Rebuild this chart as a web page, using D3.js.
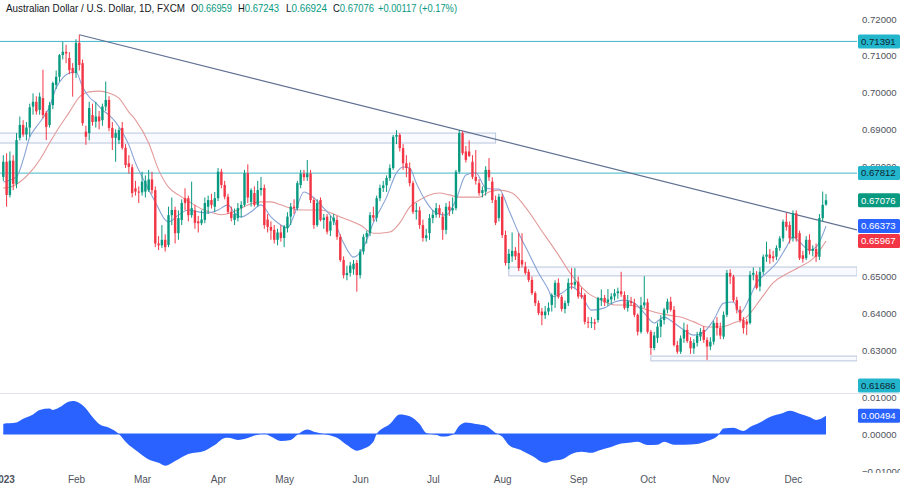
<!DOCTYPE html>
<html><head><meta charset="utf-8">
<script src="https://cdn.jsdelivr.net/npm/d3@7"></script>
<style>body{margin:0;background:#fff}svg{display:block;font-family:"Liberation Sans",Arial,sans-serif}</style>
</head><body>
<svg id="c" width="900" height="488"></svg>
<script>
// ---------- data ----------
const titleText = "Australian Dollar / U.S. Dollar, 1D, FXCM";
const ohlcLegend = [["O","0.66959"],["H","0.67243"],["L","0.66924"],["C","0.67076"]];
const changeText = "+0.00117 (+0.17%)";
const monthLabels = ["2023","Feb","Mar","Apr","May","Jun","Jul","Aug","Sep","Oct","Nov","Dec"];
// visible price tick labels (0.67, 0.66 and 0.62 sit under the value tags)
const priceTicks = [0.72,0.71,0.70,0.69,0.68,0.65,0.64,0.63];
const oscTicks = [0.01,0,-0.01];
const oscTickLabels = ["0.01000","0.00000","\u22120.01000"];
const firstDay = "2023-01-02", lastDay = "2023-12-15";
// daily candles [open, high, low, close]
const candles = [
[.6771,.6830,.6760,.6812],[.6812,.6835,.6690,.6722],[.6722,.6840,.6715,.6815],[.6815,.6830,.6735,.6752],[.6752,.6890,.6740,.6871],
[.6877,.6935,.6870,.6912],[.6912,.6925,.6880,.6886],[.6886,.6920,.6870,.6905],[.6905,.6970,.6880,.6960],[.6962,.6998,.6940,.6975],
[.6975,.6990,.6940,.6949],[.6953,.7000,.6940,.6989],[.6985,.7062,.6930,.6939],[.6945,.6950,.6871,.6907],[.6912,.6975,.6905,.6966],
[.6966,.7030,.6955,.7026],[.7021,.7060,.7010,.7043],[.7043,.7105,.7030,.7102],[.7102,.7138,.7090,.7111],[.7111,.7130,.7080,.7106],
[.7094,.7110,.7050,.7061],[.7067,.7080,.6989,.7053],[.7053,.7145,.7040,.7135],[.7135,.7157,.7060,.7075],[.7080,.7090,.6910,.6917],
[.6894,.6910,.6858,.6880],[.6890,.6975,.6870,.6958],[.6939,.6970,.6910,.6920],[.6921,.6975,.6905,.6935],[.6935,.6950,.6900,.6922],
[.6925,.6970,.6910,.6962],[.6962,.7030,.6950,.6980],[.6980,.6990,.6895,.6904],[.6904,.6920,.6844,.6877],[.6877,.6900,.6812,.6890],
[.6871,.6905,.6860,.6898],[.6904,.6920,.6845,.6850],[.6850,.6860,.6795,.6803],[.6808,.6830,.6780,.6798],[.6797,.6805,.6715,.6727],
[.6740,.6760,.6720,.6731],[.6731,.6745,.6700,.6729],[.6729,.6785,.6720,.6758],[.6731,.6775,.6715,.6760],[.6735,.6790,.6730,.6764],
[.6764,.6785,.6725,.6735],[.6735,.6745,.6580,.6590],[.6590,.6610,.6572,.6585],[.6585,.6640,.6578,.6600],[.6600,.6615,.6568,.6580],
[.6586,.6690,.6580,.6667],[.6667,.6715,.6640,.6681],[.6681,.6690,.6590,.6618],[.6618,.6680,.6600,.6659],[.6654,.6710,.6640,.6700],
[.6713,.6740,.6680,.6700],[.6713,.6720,.6650,.6667],[.6667,.6758,.6660,.6686],[.6680,.6695,.6630,.6646],[.6650,.6665,.6620,.6645],
[.6645,.6680,.6640,.6655],[.6654,.6715,.6645,.6700],[.6690,.6720,.6670,.6708],[.6708,.6725,.6685,.6695],[.6690,.6730,.6675,.6713],
[.6713,.6795,.6705,.6785],[.6785,.6793,.6740,.6749],[.6749,.6760,.6710,.6717],[.6717,.6725,.6670,.6676],[.6676,.6690,.6650,.6659],
[.6654,.6685,.6640,.6670],[.6659,.6700,.6650,.6686],[.6686,.6705,.6660,.6695],[.6695,.6790,.6690,.6781],[.6781,.6805,.6700,.6715],
[.6703,.6740,.6690,.6735],[.6727,.6745,.6690,.6695],[.6695,.6760,.6690,.6735],[.6735,.6771,.6720,.6741],[.6741,.6750,.6630,.6640],
[.6655,.6670,.6620,.6635],[.6635,.6650,.6600,.6625],[.6627,.6640,.6590,.6600],[.6600,.6630,.6585,.6620],[.6620,.6640,.6595,.6605],
[.6605,.6640,.6580,.6636],[.6632,.6675,.6620,.6663],[.6663,.6700,.6640,.6690],[.6690,.6710,.6670,.6686],[.6686,.6760,.6680,.6754],
[.6749,.6790,.6740,.6780],[.6780,.6790,.6760,.6770],[.6770,.6817,.6760,.6780],[.6780,.6790,.6700,.6708],[.6708,.6715,.6630,.6640],
[.6640,.6710,.6635,.6700],[.6708,.6715,.6650,.6654],[.6654,.6670,.6630,.6660],[.6663,.6670,.6615,.6622],[.6625,.6665,.6610,.6650],
[.6650,.6670,.6640,.6660],[.6654,.6665,.6600,.6608],[.6608,.6615,.6540,.6545],[.6545,.6555,.6495,.6504],[.6504,.6530,.6490,.6510],
[.6510,.6540,.6500,.6530],[.6520,.6545,.6505,.6535],[.6537,.6545,.6459,.6504],[.6504,.6575,.6495,.6568],[.6568,.6615,.6560,.6608],
[.6608,.6625,.6590,.6618],[.6618,.6675,.6610,.6667],[.6667,.6690,.6650,.6660],[.6660,.6720,.6649,.6713],[.6713,.6750,.6705,.6741],
[.6741,.6760,.6730,.6748],[.6748,.6775,.6730,.6768],[.6768,.6805,.6760,.6795],[.6795,.6885,.6790,.6880],[.6880,.6898,.6860,.6885],
[.6885,.6890,.6840,.6849],[.6849,.6860,.6790,.6808],[.6808,.6830,.6770,.6795],[.6795,.6810,.6745,.6754],[.6754,.6760,.6670,.6676],
[.6676,.6700,.6655,.6680],[.6680,.6690,.6630,.6640],[.6640,.6655,.6595,.6605],[.6605,.6630,.6595,.6612],[.6618,.6670,.6600,.6659],
[.6659,.6680,.6645,.6668],[.6668,.6700,.6660,.6686],[.6686,.6695,.6660,.6670],[.6663,.6675,.6600,.6627],[.6627,.6700,.6615,.6690],
[.6690,.6705,.6665,.6680],[.6680,.6715,.6670,.6686],[.6686,.6790,.6680,.6785],[.6785,.6898,.6780,.6890],[.6890,.6895,.6830,.6835],
[.6840,.6855,.6810,.6817],[.6840,.6870,.6825,.6828],[.6812,.6830,.6765,.6771],[.6771,.6844,.6750,.6760],[.6754,.6765,.6720,.6727],
[.6727,.6745,.6715,.6735],[.6731,.6800,.6720,.6790],[.6790,.6822,.6760,.6770],[.6758,.6770,.6700,.6708],[.6708,.6720,.6640,.6646],
[.6659,.6725,.6650,.6717],[.6717,.6725,.6605,.6613],[.6613,.6625,.6530,.6537],[.6537,.6575,.6520,.6562],[.6555,.6620,.6540,.6570],
[.6570,.6580,.6545,.6555],[.6564,.6618,.6515,.6523],[.6545,.6618,.6525,.6533],[.6527,.6540,.6505,.6510],[.6513,.6520,.6485,.6491],
[.6491,.6500,.6450,.6455],[.6455,.6460,.6420,.6428],[.6428,.6435,.6395,.6401],[.6405,.6415,.6368,.6395],[.6395,.6420,.6385,.6405],
[.6405,.6430,.6395,.6415],[.6423,.6455,.6405,.6450],[.6450,.6490,.6415,.6483],[.6483,.6495,.6440,.6445],[.6445,.6450,.6405,.6412],
[.6412,.6435,.6400,.6428],[.6428,.6495,.6420,.6483],[.6483,.6523,.6465,.6478],[.6478,.6523,.6470,.6486],[.6486,.6500,.6440,.6446],
[.6450,.6470,.6440,.6445],[.6450,.6455,.6370,.6377],[.6377,.6390,.6360,.6375],[.6375,.6390,.6360,.6376],[.6376,.6385,.6355,.6372],
[.6382,.6445,.6375,.6442],[.6436,.6465,.6420,.6442],[.6442,.6450,.6420,.6430],[.6430,.6466,.6420,.6438],[.6438,.6455,.6425,.6446],
[.6446,.6466,.6435,.6455],[.6455,.6470,.6440,.6460],[.6460,.6513,.6445,.6452],[.6450,.6460,.6410,.6415],[.6415,.6450,.6405,.6433],
[.6433,.6445,.6420,.6428],[.6428,.6440,.6390,.6396],[.6396,.6400,.6340,.6350],[.6350,.6445,.6345,.6422],[.6422,.6501,.6415,.6430],
[.6430,.6440,.6345,.6350],[.6350,.6355,.6287,.6306],[.6306,.6350,.6300,.6340],[.6333,.6375,.6320,.6364],[.6364,.6395,.6335,.6382],
[.6382,.6415,.6370,.6410],[.6410,.6440,.6400,.6432],[.6432,.6445,.6405,.6410],[.6410,.6420,.6310,.6314],[.6314,.6325,.6290,.6296],
[.6296,.6340,.6290,.6332],[.6332,.6375,.6320,.6355],[.6355,.6370,.6320,.6325],[.6325,.6335,.6290,.6305],[.6305,.6330,.6290,.6320],
[.6320,.6350,.6310,.6340],[.6337,.6360,.6325,.6350],[.6355,.6365,.6320,.6328],[.6328,.6335,.6273,.6310],[.6310,.6335,.6300,.6323],
[.6323,.6380,.6315,.6374],[.6374,.6390,.6340,.6360],[.6360,.6375,.6330,.6340],[.6337,.6405,.6330,.6396],[.6396,.6518,.6390,.6510],
[.6510,.6520,.6480,.6500],[.6500,.6505,.6430,.6436],[.6436,.6445,.6400,.6410],[.6410,.6420,.6375,.6382],[.6382,.6390,.6345,.6360],
[.6378,.6385,.6341,.6370],[.6374,.6515,.6370,.6505],[.6505,.6525,.6490,.6510],[.6505,.6515,.6465,.6469],[.6473,.6525,.6460,.6513],
[.6513,.6560,.6505,.6554],[.6554,.6595,.6540,.6560],[.6560,.6575,.6535,.6550],[.6555,.6570,.6540,.6550],[.6554,.6585,.6545,.6578],
[.6578,.6610,.6570,.6604],[.6604,.6655,.6595,.6649],[.6649,.6673,.6625,.6635],[.6640,.6650,.6590,.6604],[.6604,.6680,.6595,.6672],
[.6672,.6680,.6595,.6604],[.6618,.6625,.6545,.6550],[.6558,.6570,.6538,.6548],[.6550,.6610,.6545,.6600],[.6600,.6615,.6560,.6570],
[.6570,.6585,.6555,.6575],[.6575,.6590,.6540,.6554],[.6554,.6670,.6545,.6659],[.6659,.6731,.6650,.6695],[.66959,.67243,.66924,.67076]
];
// moving averages: [candle index, value]
const fastMA = [[0,.6757],[4,.6771],[6,.6817],[8,.6879],[10,.6907],[12,.6931],[14,.6961],[16,.7013],[18,.7040],[20,.7053],[22,.7056],[24,.7015],[26,.6988],[28,.6972],[30,.6953],[32,.6939],[34,.6920],[36,.6893],[38,.6858],[40,.6809],[43,.6754],[46,.6703],[49,.6654],[50,.6648],[53,.6667],[56,.6681],[59,.6676],[62,.6673],[65,.6681],[68,.6695],[70,.6673],[72,.6662],[75,.6676],[78,.6695],[81,.6662],[84,.6640],[86,.6632],[88,.6667],[91,.6730],[94,.6714],[97,.6686],[100,.6654],[103,.6591],[106,.6553],[109,.6580],[112,.6646],[116,.6716],[119,.6782],[121,.6798],[123,.6795],[125,.6754],[128,.6703],[131,.6673],[134,.6667],[137,.6708],[140,.6776],[143,.6782],[146,.6741],[148,.6738],[150,.6738],[153,.6681],[156,.6618],[159,.6564],[162,.6510],[165,.6464],[166,.6445],[169,.6455],[172,.6472],[175,.6450],[178,.6409],[182,.6415],[185,.6431],[188,.6436],[191,.6428],[194,.6401],[197,.6374],[200,.6390],[203,.6374],[206,.6355],[209,.6341],[212,.6349],[215,.6382],[218,.6428],[221,.6431],[223,.6401],[226,.6445],[228,.6483],[231,.6510],[234,.6537],[237,.6580],[239,.6608],[241,.6594],[244,.6572],[246,.6580],[249,.66373]];
const slowMA = [[0,.6741],[2,.6743],[5,.6757],[8,.6782],[11,.6817],[14,.6863],[17,.6907],[20,.6947],[23,.6988],[26,.7002],[29,.7004],[32,.6999],[35,.6985],[38,.6947],[40,.6926],[44,.6863],[47,.6790],[50,.6743],[53,.6722],[56,.6705],[60,.6684],[63,.6674],[66,.6668],[69,.6674],[72,.6686],[75,.6698],[78,.6703],[81,.6703],[84,.6695],[87,.6686],[90,.6681],[96,.6681],[102,.6662],[108,.6640],[112,.6618],[114,.6618],[117,.6621],[120,.6646],[123,.6689],[126,.6708],[129,.6722],[132,.6727],[135,.6722],[138,.6716],[141,.6716],[144,.6716],[147,.6730],[150,.6735],[154,.6727],[158,.6689],[163,.6624],[168,.6559],[172,.6504],[177,.6455],[181,.6436],[185,.6423],[189,.6423],[193,.6415],[197,.6404],[201,.6396],[205,.6390],[209,.6377],[213,.6363],[217,.6363],[221,.6374],[225,.6390],[229,.6436],[233,.6483],[237,.6507],[241,.6526],[245,.6548],[249,.65967]];
// oscillator: [candle index, value]
const osc = [[0,.0027],[1,.0029],[3,.0030],[4,.0031],[6,.0041],[9,.0053],[11,.0065],[14,.0069],[15,.0065],[17,.0072],[19,.0084],[21,.0089],[23,.0084],[25,.0069],[27,.0046],[29,.0027],[32,.0017],[35,0],[37,-.0021],[41,-.0050],[44,-.0069],[47,-.0078],[49,-.0086],[52,-.0073],[56,-.0054],[61,-.0045],[64,-.0030],[67,-.0011],[68,-.0010],[71,-.0016],[74,-.0011],[76,-.0004],[79,.0001],[81,-.0007],[84,-.0019],[87,-.0016],[89,-.0002],[92,.0012],[94,.0006],[98,-.0002],[101,-.0010],[104,-.0030],[107,-.0045],[109,-.0040],[112,-.0021],[113,0],[117,.0027],[120,.0053],[123,.0048],[126,.0027],[128,.0003],[131,-.0002],[133,-.0007],[136,-.0002],[138,.0022],[140,.0031],[143,.0027],[146,.0022],[149,.0003],[151,-.0007],[153,-.0030],[157,-.0045],[160,-.0059],[164,-.0078],[166,-.0073],[169,-.0069],[172,-.0054],[175,-.0048],[178,-.0051],[180,-.0045],[184,-.0035],[187,-.0026],[190,-.0023],[192,-.0021],[195,-.0030],[198,-.0029],[200,-.0021],[203,-.0029],[206,-.0029],[210,-.0027],[213,-.0019],[216,-.0007],[218,.0015],[221,.0017],[224,.0008],[226,.0019],[229,.0031],[232,.0046],[236,.0057],[238,.0063],[241,.0055],[244,.0046],[246,.0038],[249,.00494]];
const levelLines = [0.71391, 0.67812];
const trendAnchors = [[23,0.7157],[138,0.6898]];
// zones: [start index, end index or null (to right edge), top, bottom]
const zones = [[-3,149,0.6890,0.6863],[153,null,0.6526,0.6502],[196,null,0.6284,0.6271]];
const priceLabels = [
  {v:0.71391,bg:"#22b5cc",fg:"#10262e"},{v:0.67812,bg:"#22b5cc",fg:"#10262e"},
  {v:0.67076,bg:"#089981",fg:"#ffffff"},{v:0.66373,bg:"#2962ff",fg:"#ffffff"},
  {v:0.65967,bg:"#f23645",fg:"#ffffff"},{v:0.61686,bg:"#22b5cc",fg:"#10262e"}];
const oscLabel = {v:0.00494,bg:"#2962ff",fg:"#ffffff"};

// ---------- drawing ----------
const svg = d3.select("#c");
const W = 900, plotR = 857;
const paneTop = 0, paneBot = 393, oscTop = 393, oscBot = 473;
const days = d3.timeDay.range(new Date(firstDay+"T00:00"), d3.timeDay.offset(new Date(lastDay+"T00:00"),1))
  .filter(d => d.getDay()>0 && d.getDay()<6);
const x = d3.scaleLinear().domain([0, days.length-1]).range([3.3, 826]);
const y = d3.scaleLinear().domain([0.63, 0.72]).range([350.2, 19]);
const yo = d3.scaleLinear().domain([-0.01, 0.01]).range([471, 397]);
const green = "#089981", red = "#f23645";
const axisFont = "9.6px";
const axisColor = "#50535e";

const defs = svg.append("defs");
defs.append("clipPath").attr("id","cp").append("rect").attr("x",0).attr("y",paneTop).attr("width",plotR).attr("height",paneBot-paneTop);
defs.append("clipPath").attr("id","co").append("rect").attr("x",0).attr("y",oscTop).attr("width",plotR).attr("height",oscBot-oscTop);

const gp = svg.append("g").attr("clip-path","url(#cp)");

// zones
gp.selectAll("rect.zone").data(zones).join("rect")
  .attr("x", d => x(d[0])).attr("width", d => (d[1]===null? plotR : x(d[1])) - x(d[0]))
  .attr("y", d => y(d[2])).attr("height", d => y(d[3]) - y(d[2]))
  .attr("fill","rgba(41,98,255,0.03)").attr("stroke","#b8c6dc").attr("stroke-width",1);

// level lines
gp.selectAll("line.lvl").data(levelLines).join("line")
  .attr("x1",0).attr("x2",plotR).attr("y1",d=>y(d)).attr("y2",d=>y(d))
  .attr("stroke","#3fb6c9").attr("stroke-width",1);

// trend line extended to right edge
{
  const [a,b] = trendAnchors;
  const x1 = x(a[0]), y1 = y(a[1]), x2 = x(b[0]), y2 = y(b[1]);
  const s = (y2-y1)/(x2-x1);
  gp.append("line").attr("x1",x1).attr("y1",y1).attr("x2",plotR).attr("y2",y1 + s*(plotR-x1))
    .attr("stroke","#5f7092").attr("stroke-width",1.1);
}

// moving averages
const ml = d3.line().x(d=>x(d[0])).y(d=>y(d[1])).curve(d3.curveMonotoneX);
gp.append("path").datum(slowMA).attr("d",ml).attr("fill","none").attr("stroke","#e39a9a").attr("stroke-width",1.1);
gp.append("path").datum(fastMA).attr("d",ml).attr("fill","none").attr("stroke","#87a3d6").attr("stroke-width",1.1);

// candles
const bw = 2.4;
const cg = gp.selectAll("g.cd").data(candles).join("g");
cg.append("line").attr("x1",(d,i)=>x(i)).attr("x2",(d,i)=>x(i))
  .attr("y1",d=>y(d[1])).attr("y2",d=>y(d[2]))
  .attr("stroke",d=>d[3]>=d[0]?green:red).attr("stroke-width",1);
cg.append("rect").attr("x",(d,i)=>x(i)-bw/2).attr("width",bw)
  .attr("y",d=>y(Math.max(d[0],d[3])))
  .attr("height",d=>Math.max(1,Math.abs(y(d[0])-y(d[3]))))
  .attr("fill",d=>d[3]>=d[0]?green:red);

// pane separator
svg.append("line").attr("x1",0).attr("x2",W).attr("y1",oscTop+0.5).attr("y2",oscTop+0.5).attr("stroke","#e0e3eb");

// oscillator
const go = svg.append("g").attr("clip-path","url(#co)");
go.append("path").datum(osc)
  .attr("d", d3.area().x(d=>x(d[0])).y0(yo(0)).y1(d=>yo(d[1])).curve(d3.curveMonotoneX))
  .attr("fill","#2962ff");
go.append("line").attr("x1",x(0)).attr("x2",x(candles.length-1)).attr("y1",yo(0)).attr("y2",yo(0))
  .attr("stroke","#2962ff").attr("stroke-width",1.2);

// right price axis
const axP = d3.axisRight(y).tickValues(priceTicks).tickFormat(d3.format(".5f")).tickSize(0).tickPadding(0);
svg.append("g").attr("transform","translate(862,0)").call(axP)
  .call(g=>{g.select(".domain").remove(); g.selectAll("text").attr("fill",axisColor).attr("font-size",axisFont).attr("font-family","Liberation Sans, Arial, sans-serif");});

// oscillator axis
const axO = d3.axisRight(yo).tickValues(oscTicks).tickSize(0).tickPadding(0)
  .tickFormat((d,i)=>oscTickLabels[i]);
svg.append("g").attr("transform","translate(862,0)").call(axO)
  .call(g=>{g.select(".domain").remove(); g.selectAll("text").attr("fill",axisColor).attr("font-size",axisFont).attr("font-family","Liberation Sans, Arial, sans-serif");});

// value labels
function tag(v, yy, bg, fg){
  const g = svg.append("g");
  g.append("rect").attr("x",858).attr("y",yy-7).attr("width",42).attr("height",14).attr("rx",1.5).attr("fill",bg);
  g.append("text").attr("x",861).attr("y",yy).attr("dy","0.35em").attr("fill",fg)
    .attr("font-size",axisFont).text(d3.format(".5f")(v));
}
priceLabels.forEach(l => tag(l.v, Math.min(y(l.v), paneBot-7.5), l.bg, l.fg));
tag(oscLabel.v, yo(oscLabel.v), oscLabel.bg, oscLabel.fg);
// bottom edge of the oscillator pane hides the lower part of its last label
svg.append("rect").attr("x",858).attr("y",oscBot).attr("width",42).attr("height",20).attr("fill","#ffffff");

// time axis
const monthStarts = [];
days.forEach((d,i)=>{ if(i===0 || d.getMonth()!==days[i-1].getMonth()) monthStarts.push(i); });
const axT = d3.axisBottom(x).tickValues(monthStarts).tickSize(0).tickPadding(0)
  .tickFormat((d,i)=>monthLabels[i]);
svg.append("g").attr("transform","translate(0,476)").call(axT)
  .call(g=>{g.select(".domain").remove(); g.selectAll("text").attr("fill",axisColor).attr("font-size","10px")
    .attr("font-family","Liberation Sans, Arial, sans-serif")
    .attr("font-weight",(d,i)=>i===0?"bold":"normal");});

// title / legend
svg.append("text").attr("x",6).attr("y",12).attr("font-size","10.2px").attr("fill","#131722")
  .attr("textLength",179).attr("lengthAdjust","spacingAndGlyphs").text(titleText);
const legX = [191,238,286,333];
ohlcLegend.forEach((p,i)=>{
  const t = svg.append("text").attr("x",legX[i]).attr("y",12).attr("font-size","10.2px")
    .attr("textLength",41).attr("lengthAdjust","spacingAndGlyphs");
  t.append("tspan").attr("fill","#131722").text(p[0]);
  t.append("tspan").attr("fill",green).text(p[1]);
});
svg.append("text").attr("x",378).attr("y",12).attr("font-size","10.2px").attr("fill",green)
  .attr("textLength",79).attr("lengthAdjust","spacingAndGlyphs").text(changeText);
</script>
</body></html>
